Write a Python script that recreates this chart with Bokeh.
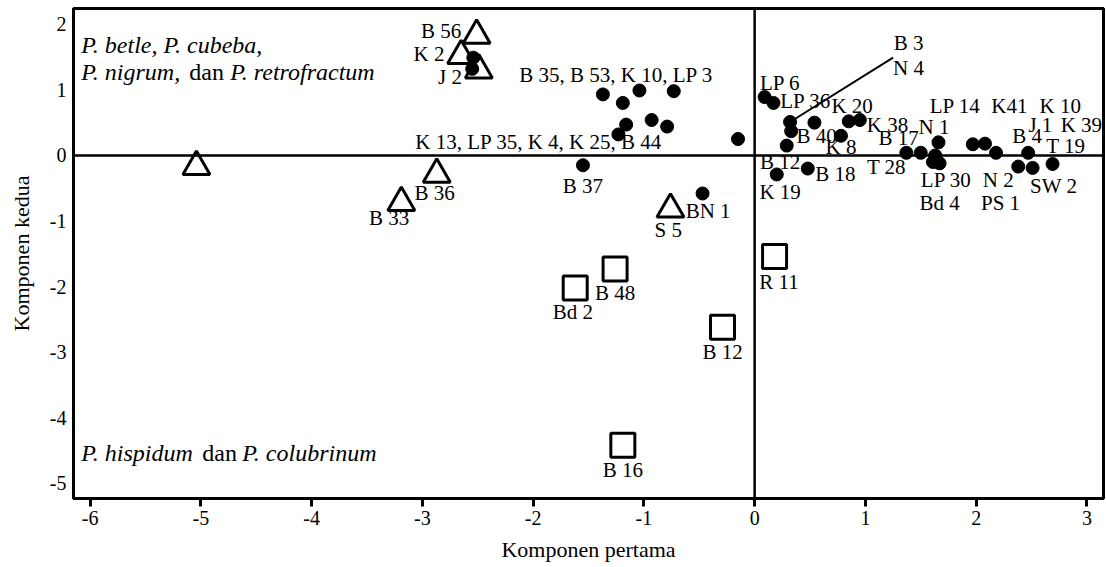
from bokeh.plotting import figure
from bokeh.models import Span, FixedTicker, Range1d
from bokeh.core.properties import value
from bokeh.embed import file_html
from bokeh.resources import INLINE

# ---------------- data ----------------
# open triangles
tri_x = [-5.04, -2.51, -2.65, -2.49, -2.87, -3.19, -0.76]
tri_y = [-0.17, 1.83, 1.52, 1.30, -0.29, -0.72, -0.82]

# open squares
sq_x = [-1.26, -1.62, -0.29, 0.18, -1.19]
sq_y = [-1.73, -2.02, -2.62, -1.54, -4.42]

# filled dots
dot_x = [-2.54, -2.55, -1.37, -1.19, -1.04, -0.73, -1.16, -0.93, -0.79, -1.23, -0.15,
         -1.55, -0.47,
         0.09, 0.17, 0.32, 0.33, 0.29, 0.54, 0.78, 0.85, 0.95, 0.20, 0.48,
         1.37, 1.50, 1.66, 1.63, 1.61, 1.67, 1.97, 2.08, 2.18, 2.38, 2.47, 2.51, 2.69]
dot_y = [1.49, 1.32, 0.93, 0.80, 0.99, 0.98, 0.47, 0.54, 0.44, 0.32, 0.25,
         -0.15, -0.58,
         0.89, 0.80, 0.51, 0.37, 0.15, 0.50, 0.30, 0.52, 0.54, -0.29, -0.20,
         0.04, 0.04, 0.20, 0.00, -0.10, -0.12, 0.17, 0.18, 0.04, -0.17, 0.04, -0.19, -0.13]

# leader line from a point to the "B 3 / N 4" label
lead_x = [0.32, 1.25]
lead_y = [0.51, 1.49]

# point labels
label_text = ["B 35, B 53, K 10, LP 3", "K 13, LP 35, K 4, K 25, B 44",
              "B 56", "K 2", "J 2", "B 36", "B 33", "B 37", "BN 1", "S 5",
              "B 48", "Bd 2", "B 12", "R 11", "B 16",
              "B 3", "N 4", "LP 6", "LP 36", "K 20", "K 38", "B 40", "K 8",
              "B 17", "N 1", "LP 14", "K41", "K 10", "J 1", "K 39", "B 4", "T 19",
              "B 12", "K 19", "B 18", "T 28", "LP 30", "N 2", "SW 2", "Bd 4", "PS 1"]
label_x = [-1.25, -1.95,
           -2.83, -2.94, -2.75, -2.89, -3.30, -1.55, -0.42, -0.78,
           -1.26, -1.64, -0.29, 0.22, -1.19,
           1.39, 1.39, 0.23, 0.46, 0.88, 1.20, 0.56, 0.78,
           1.30, 1.62, 1.81, 2.30, 2.76, 2.58, 2.95, 2.46, 2.81,
           0.23, 0.23, 0.73, 1.19, 1.73, 2.20, 2.70, 1.67, 2.22]
label_y = [1.22, 0.20,
           1.89, 1.55, 1.20, -0.58, -0.96, -0.46, -0.84, -1.13,
           -2.10, -2.39, -3.00, -1.93, -4.80,
           1.71, 1.34, 1.10, 0.83, 0.76, 0.46, 0.29, 0.13,
           0.26, 0.43, 0.76, 0.76, 0.76, 0.46, 0.46, 0.29, 0.14,
           -0.10, -0.56, -0.28, -0.18, -0.38, -0.38, -0.46, -0.73, -0.73]

# group annotations (text pieces, italic flag)
group1_line1 = [("P. betle, P. cubeba,", True)]
group1_line2 = [("P. nigrum,", True), ("dan", False), ("P. retrofractum", True)]
group2_line = [("P. hispidum", True), ("dan", False), ("P. colubrinum", True)]

x_ticks = [-6, -5, -4, -3, -2, -1, 0, 1, 2, 3]
x_tick_labels = ["-6", "-5", "-4", "-3", "-2", "-1", "0", "1", "2", "3"]
y_ticks = [-5, -4, -3, -2, -1, 0, 1, 2]
y_tick_labels = ["-5", "-4", "-3", "-2", "-1", "0", "1", "2"]

x_title = "Komponen pertama"
y_title = "Komponen kedua"

# ---------------- figure ----------------
FONT = "Liberation Serif"

p = figure(width=1106, height=567, output_backend="svg", toolbar_location=None,
           x_range=Range1d(-6.15, 3.15), y_range=Range1d(-5.23, 2.24),
           min_border_left=73, min_border_right=3, min_border_top=8, min_border_bottom=69)
p.background_fill_color = "white"
p.border_fill_color = "white"
p.grid.visible = False
p.outline_line_color = "black"
p.outline_line_width = 3
p.outline_line_alpha = 1

for ax in (p.xaxis[0], p.yaxis[0]):
    ax.axis_line_color = "black"
    ax.axis_line_width = 3
    ax.minor_tick_line_color = None
    ax.major_label_text_font = FONT
    ax.major_label_text_font_size = "20px"
    ax.major_label_text_color = "black"
    ax.axis_label_text_font = FONT
    ax.axis_label_text_font_size = "22px"
    ax.axis_label_text_font_style = "normal"
    ax.axis_label_text_color = "black"

p.xaxis.ticker = FixedTicker(ticks=x_ticks)
p.xaxis.major_label_overrides = dict(zip(x_ticks, x_tick_labels))
p.xaxis.major_tick_out = 8
p.xaxis.major_tick_in = 0
p.xaxis.major_tick_line_width = 3
p.xaxis.major_label_standoff = 4
p.xaxis.axis_label = x_title
p.xaxis.axis_label_standoff = 9

p.yaxis.ticker = FixedTicker(ticks=y_ticks)
p.yaxis.major_label_overrides = dict(zip(y_ticks, y_tick_labels))
p.yaxis.major_tick_out = 0
p.yaxis.major_tick_in = 0
p.yaxis.major_tick_line_color = None
p.yaxis.major_label_standoff = 7
p.yaxis.axis_label = y_title
p.yaxis.axis_label_standoff = 13

# zero lines
p.add_layout(Span(location=0, dimension="width", line_color="black", line_width=2.5))
p.add_layout(Span(location=0, dimension="height", line_color="black", line_width=2.5))

# leader line
p.line(lead_x, lead_y, line_color="black", line_width=2)

# markers
p.scatter(tri_x, tri_y, marker="triangle", size=27, fill_color=None,
          line_color="black", line_width=3)
p.scatter(sq_x, sq_y, marker="square", size=24, fill_color=None,
          line_color="black", line_width=3)
p.scatter(dot_x, dot_y, marker="circle", size=13, fill_color="black",
          line_color="black", line_width=1)

# point labels
p.text(label_x, label_y, text=label_text, text_font=value(FONT), text_font_size="21px",
       text_align="center", text_baseline="middle", text_color="black")

# group annotations
def put_pieces(pieces, x0, y0, offsets):
    for (txt, ital), off in zip(pieces, offsets):
        p.text([x0], [y0], text=[txt], x_offset=off, text_font=value(FONT),
               text_font_size="24px", text_align="left", text_baseline="middle",
               text_font_style="italic" if ital else "normal", text_color="black")

ann_x = -6.08
put_pieces(group1_line1, ann_x, 1.68, [0])
put_pieces(group1_line2, ann_x, 1.27, [0, 108, 149])
put_pieces(group2_line, ann_x, -4.54, [0, 121, 161])

open("out.html", "w").write(file_html(p, INLINE))
